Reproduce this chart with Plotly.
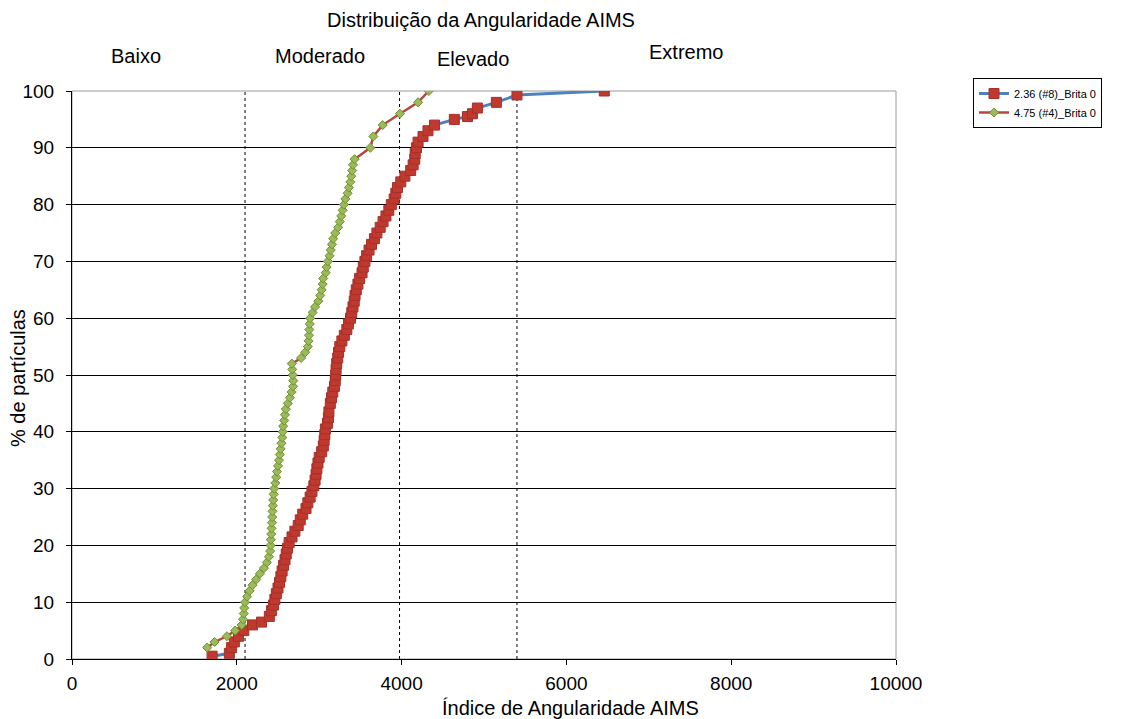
import plotly.graph_objects as go

# ---- data ----
s1_name = "2.36 (#8)_Brita 0"
s1_pct = [0.5, 1, 2, 3, 4, 5, 6, 6.5, 7.5, 8.5, 9.5, 10.5, 11.5, 12.5, 13.5, 14.5, 15.5,
          16.5, 17.5, 18.5, 19.5, 20.5, 21.5, 22.5, 23.5, 24.5, 25.5, 26.5, 27.5, 28.5,
          29.5, 30.5, 31.5, 32.5, 33.5, 34.5, 35.5, 36.5, 37.5, 38.5, 39.5, 40.5, 41.5,
          42.5, 43.5, 45, 46, 47, 48, 49, 50, 51, 52, 53, 54, 55, 56, 57, 58, 59, 60,
          61, 62, 63, 64, 65, 66, 67, 68, 69, 70, 71, 72, 73, 74, 75, 76, 77, 78, 79,
          80, 81, 82, 83, 84, 85, 86, 87, 88, 89, 90, 91, 92, 93, 94, 95, 95.5, 96, 97,
          98, 99.3, 100]
s1_aims = [1700, 1910, 1935, 1970, 2020, 2085, 2190, 2300, 2395, 2420, 2445, 2462, 2480,
           2500, 2518, 2535, 2550, 2568, 2585, 2600, 2615, 2635, 2670, 2705, 2745, 2770,
           2800, 2840, 2862, 2890, 2912, 2935, 2950, 2962, 2972, 2985, 3000, 3030, 3050,
           3060, 3068, 3075, 3100, 3112, 3118, 3135, 3150, 3165, 3185, 3195, 3200, 3205,
           3212, 3225, 3235, 3250, 3275, 3305, 3335, 3355, 3380, 3395, 3410, 3425, 3435,
           3450, 3470, 3490, 3520, 3535, 3555, 3575, 3605, 3635, 3670, 3700, 3740, 3775,
           3810, 3845, 3875, 3910, 3930, 3950, 3990, 4040, 4110, 4140, 4160, 4165, 4180,
           4200, 4260, 4320, 4400, 4640, 4800, 4860, 4920, 5150, 5400, 6460]

s2_name = "4.75 (#4)_Brita 0"
s2_pct = [2, 3, 4, 5, 6, 7, 8, 9, 10, 11, 12, 13, 14, 15, 16, 17, 18, 19, 20, 21, 22, 23,
          24, 25, 26, 27, 28, 29, 30, 31, 32, 33, 34, 35, 36, 37, 38, 39, 40, 41, 42, 43,
          44, 45, 46, 47, 48, 49, 50, 51, 52, 53, 54, 55, 56, 57, 58, 59, 60, 61, 62, 63,
          64, 65, 66, 67, 68, 69, 70, 71, 72, 73, 74, 75, 76, 77, 78, 79, 80, 81, 82, 83,
          84, 85, 86, 87, 88, 90, 92, 94, 96, 98, 100]
s2_aims = [1640, 1730, 1880, 1980, 2060, 2075, 2085, 2090, 2100, 2125, 2155, 2190, 2235,
           2280, 2330, 2365, 2390, 2405, 2410, 2413, 2418, 2422, 2427, 2430, 2433, 2437,
           2442, 2447, 2455, 2468, 2478, 2488, 2500, 2512, 2522, 2532, 2542, 2552, 2558,
           2562, 2575, 2585, 2595, 2620, 2645, 2665, 2683, 2685, 2680, 2672, 2668, 2780,
           2830, 2862, 2870, 2876, 2880, 2885, 2890, 2920, 2950, 2990, 3012, 3030, 3042,
           3048, 3080, 3090, 3105, 3125, 3140, 3155, 3170, 3195, 3230, 3250, 3268, 3285,
           3300, 3318, 3345, 3360, 3378, 3390, 3400, 3410, 3430, 3620, 3657, 3770, 3980,
           4200, 4330]

class_limits = [2100, 3975, 5400]
class_names = ["Baixo", "Moderado", "Elevado", "Extremo"]
x_ticks = [0, 2000, 4000, 6000, 8000, 10000]
x_tick_text = ["0", "2000", "4000", "6000", "8000", "10000"]
y_ticks = [0, 10, 20, 30, 40, 50, 60, 70, 80, 90, 100]

chart_title = "Distribuição da Angularidade AIMS"
x_title = "Índice de Angularidade AIMS"
y_title = "% de partículas"

# ---- layout geometry (pixels) ----
W, H = 1132, 719
L, R, T, B = 72, 896, 91, 659
pw, ph = R - L, B - T

def px(x):
    return (x - L) / pw

def py(y):
    return (B - y) / ph

FONT = "Liberation Sans, Arial, sans-serif"
ANN = 20
TICK = 19

fig = go.Figure()
fig.add_trace(go.Scatter(
    x=s1_aims, y=s1_pct, name=s1_name, mode="lines+markers",
    line=dict(color="#4F81BD", width=3),
    marker=dict(symbol="square", size=10, color="#C0392F",
                line=dict(color="#A5302A", width=1)),
))
fig.add_trace(go.Scatter(
    x=s2_aims, y=s2_pct, name=s2_name, mode="lines+markers",
    line=dict(color="#B5473F", width=2.5),
    marker=dict(symbol="diamond", size=7, color="#9BBB59",
                line=dict(color="#6F8F33", width=1)),
))

shapes = []
shapes.append(dict(type="rect", xref="paper", yref="paper", x0=0, x1=1, y0=0, y1=1,
                   line=dict(color="#9a9a9a", width=1), layer="below"))
for lim in class_limits:
    shapes.append(dict(type="line", xref="x", yref="y", x0=lim, x1=lim,
                       y0=y_ticks[0], y1=y_ticks[-1],
                       line=dict(color="black", width=1, dash="dot"), layer="below"))

def ann(text, x, y, angle=0):
    return dict(text=text, x=px(x), y=py(y), xref="paper", yref="paper",
                xanchor="center", yanchor="middle", textangle=angle,
                showarrow=False, font=dict(size=ANN, color="black", family=FONT))

annotations = [
    ann(chart_title, 481, 20),
    ann(x_title, 570, 708),
    ann(y_title, 18, 378, -90),
]
label_pos = [(136, 56), (320, 56), (473, 59), (686, 52)]
for name, (lx, ly) in zip(class_names, label_pos):
    annotations.append(ann(name, lx, ly))

fig.update_layout(
    width=W, height=H,
    margin=dict(l=L, r=W - R, t=T, b=H - B),
    paper_bgcolor="white", plot_bgcolor="white",
    font=dict(family=FONT, color="black", size=TICK),
    showlegend=True,
    legend=dict(x=px(973), y=py(78), xanchor="left", yanchor="top",
                bordercolor="black", borderwidth=1, bgcolor="white",
                font=dict(size=11, family=FONT, color="black"),
                tracegroupgap=0, itemwidth=30),
    shapes=shapes, annotations=annotations,
    xaxis=dict(range=[x_ticks[0], x_ticks[-1]], tickvals=x_ticks, ticktext=x_tick_text,
               showgrid=False, zeroline=False, showline=True, linecolor="black",
               linewidth=1, ticks="outside", ticklen=5, tickcolor="black",
               ticklabelstandoff=2,
               tickfont=dict(size=TICK, family=FONT, color="black")),
    yaxis=dict(range=[y_ticks[0], y_ticks[-1]], tickvals=y_ticks, showgrid=True,
               gridcolor="black", gridwidth=1, zeroline=False, showline=True,
               linecolor="black", linewidth=1, ticks="outside", ticklen=5,
               tickcolor="black", ticklabelstandoff=8,
               tickfont=dict(size=TICK, family=FONT, color="black")),
)

fig.write_html("out.html")
